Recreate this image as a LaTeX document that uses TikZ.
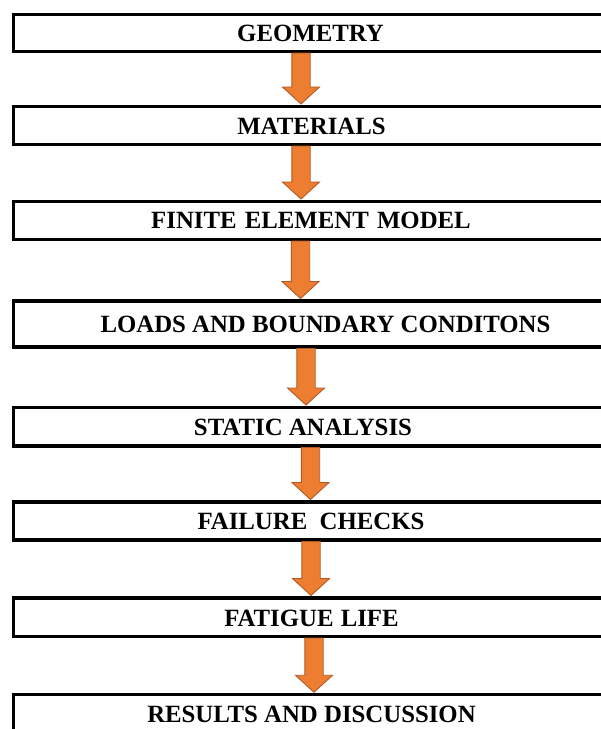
\documentclass[tikz,border=0pt]{standalone}
\usepackage{fontspec}
\setmainfont{Liberation Serif}
\usetikzlibrary{calc}
\definecolor{arrfill}{HTML}{ED7D31}
\definecolor{arrdraw}{HTML}{AE5A21}
\tikzset{
  stagebox/.style={draw=black, line width=3.5pt, fill=white, minimum width=596.5pt, inner sep=0pt},
  stagetext/.style={font=\fontsize{24.8}{29}\selectfont\bfseries, inner sep=0pt, anchor=center},
  blockarrow/.style={fill=arrfill, draw=arrdraw, line width=0.9pt, line join=miter}
}
\newcommand{\bigarrow}[3]{%
  \draw[blockarrow] let \p1=(#1.south), \p2=(#2.north) in
    (#3-9.2,\y1) -- (#3+9.2,\y1) -- (#3+9.2,\y2+17.5) -- (#3+18.5,\y2+17.5) --
    (#3,\y2+0.5) -- (#3-18.5,\y2+17.5) -- (#3-9.2,\y2+17.5) -- cycle;}
\begin{document}
\begin{tikzpicture}[x=1pt,y=1pt]
\useasboundingbox (0,0) rectangle (601,-729);
\clip (0,0) rectangle (601,-729);
% boxes
\node[stagebox, minimum height=37pt] (b1) at (311.5,-32.75) {};
\node[stagebox, minimum height=38pt] (b2) at (311.5,-125.25) {};
\node[stagebox, minimum height=38pt] (b3) at (311.5,-220.25) {};
\node[stagebox, minimum height=46pt] (b4) at (311.5,-323.75) {};
\node[stagebox, minimum height=38.5pt] (b5) at (311.5,-426.5) {};
\node[stagebox, minimum height=38pt] (b6) at (311.5,-520.75) {};
\node[stagebox, minimum height=38.5pt] (b7) at (311.5,-617) {};
\node[stagebox, minimum height=44pt] (b8) at (311.5,-716.5) {};
% texts
\node[stagetext] (t1) at (310.5,-33) {GEOMETRY};
\node[stagetext] (t2) at (311.5,-126) {MATERIALS};
\node[stagetext] (t3) at (311,-220.5) {FINITE\ \hspace{2pt}ELEMENT\ \hspace{2pt}MODEL};
\node[stagetext] (t4) at (325.5,-324.5) {LOADS AND BOUNDARY CONDITONS};
\node[stagetext] (t5) at (303,-427) {STATIC ANALYSIS};
\node[stagetext] (t6) at (311,-521) {FAILURE\ \ CHECKS};
\node[stagetext] (t7) at (311.5,-618) {FATIGUE\ \hspace{1pt}LIFE};
\node[stagetext] (t8) at (311.5,-714) {RESULTS AND DISCUSSION};
% arrows
\bigarrow{b1}{b2}{301}
\bigarrow{b2}{b3}{301}
\bigarrow{b3}{b4}{300.5}
\bigarrow{b4}{b5}{306}
\bigarrow{b5}{b6}{310.5}
\bigarrow{b6}{b7}{311}
\bigarrow{b7}{b8}{314}
\end{tikzpicture}
\end{document}
